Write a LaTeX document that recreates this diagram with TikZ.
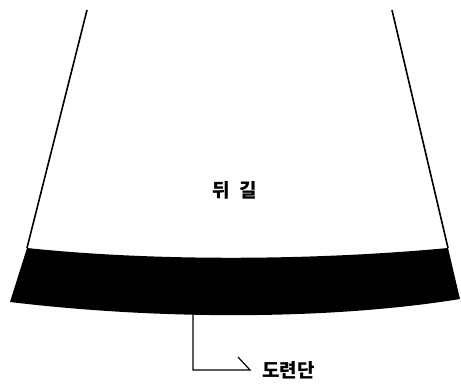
\documentclass[tikz,border=0pt]{standalone}
\usepackage{fontspec}
\newfontfamily\kofont{Noto Sans CJK KR}
\begin{document}
\begin{tikzpicture}[x=1pt, y=-1pt,
    seam/.style={line width=1.6pt},
    leader/.style={line width=1.2pt},
    label/.style={font=\kofont\bfseries\fontsize{19}{19}\selectfont, inner sep=0pt},
]
\useasboundingbox (0,0) rectangle (461,384);

% hem band
\fill (27,248) .. controls (160,262) and (320,260) .. (448,248)
  -- (460,299) .. controls (330,320) and (160,320) .. (10,302) -- cycle;

% side seams
\draw[seam] (87,10) -- (27,248);
\draw[seam] (392,10) -- (448,248);

% labels
\node[label] (back) at (235,190) {뒤\hspace{0.5em}길};
\coordinate (hemtip) at (193,314);
\node[label, anchor=west] (hem) at (262,370) {도련단};

% leader
\draw[leader] (hemtip) |- ([xshift=-12pt]hem.west) -- ++(-12,-13);

\end{tikzpicture}
\end{document}
